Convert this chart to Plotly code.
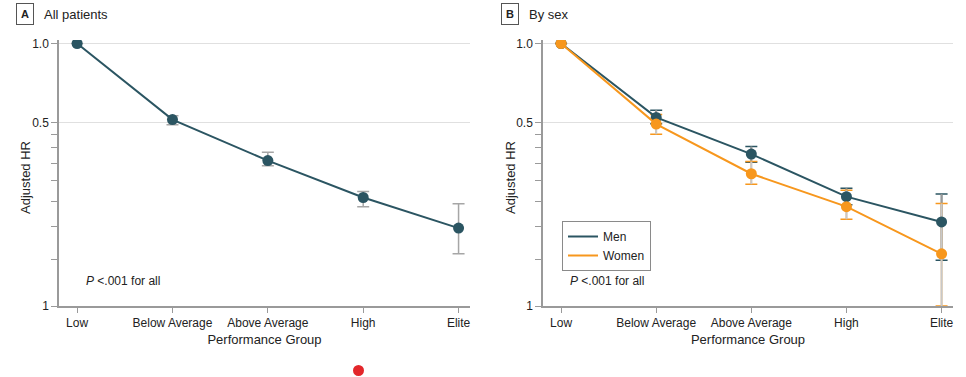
import plotly.graph_objects as go

# ---------------- data ----------------
groups = ["Low", "Below Average", "Above Average", "High", "Elite"]

all_hr = [1.0, 0.513, 0.358, 0.259, 0.198]
all_lo = [1.0, 0.490, 0.342, 0.239, 0.158]
all_hi = [1.0, 0.530, 0.385, 0.273, 0.245]

men_hr = [1.0, 0.523, 0.379, 0.261, 0.209]
men_lo = [1.0, 0.495, 0.353, 0.243, 0.1495]
men_hi = [1.0, 0.557, 0.405, 0.281, 0.267]

women_hr = [1.0, 0.493, 0.319, 0.239, 0.158]
women_lo = [1.0, 0.451, 0.291, 0.214, 0.100]
women_hi = [1.0, 0.537, 0.355, 0.276, 0.246]

y_tickvals = [0.1, 0.5, 1.0]
y_ticktext = ["1", "0.5", "1.0"]
y_minor = [0.15, 0.2, 0.25, 0.3, 0.35, 0.4, 0.45]

TEAL = "#2b5562"
ORANGE = "#f7971d"
GRAY = "#a6a6a6"
LGRAY = "#c8c8c8"
FONT = "Liberation Sans, Arial, sans-serif"
TXT = "#222222"

W, H = 966, 377

fig = go.Figure()

def err(hr, lo, hi):
    return dict(type="data", symmetric=False,
                array=[h - v for h, v in zip(hi, hr)],
                arrayminus=[v - l for v, l in zip(hr, lo)])

# ---------- Panel A ----------
ea = err(all_hr, all_lo, all_hi)
fig.add_trace(go.Scatter(x=groups, y=all_hr, mode="lines+markers",
                         line=dict(color=TEAL, width=2),
                         marker=dict(color=TEAL, size=11),
                         error_y=dict(**ea, color=GRAY, thickness=1.5, width=6),
                         showlegend=False, xaxis="x", yaxis="y"))

# ---------- Panel B ----------
def add_sex(hr, lo, hi, color, vcolor):
    e = err(hr, lo, hi)
    # colored caps
    fig.add_trace(go.Scatter(x=groups, y=hr, mode="markers",
                             marker=dict(color=color, size=1, opacity=0),
                             error_y=dict(**e, color=color, thickness=1.5, width=6),
                             showlegend=False, hoverinfo="skip",
                             xaxis="x2", yaxis="y2"))
    # gray vertical segment on top
    fig.add_trace(go.Scatter(x=groups, y=hr, mode="markers",
                             marker=dict(color=color, size=1, opacity=0),
                             error_y=dict(**e, color=vcolor, thickness=2, width=0),
                             showlegend=False, hoverinfo="skip",
                             xaxis="x2", yaxis="y2"))

add_sex(men_hr, men_lo, men_hi, TEAL, "#9a9a9a")
add_sex(women_hr, women_lo, women_hi, ORANGE, LGRAY)

fig.add_trace(go.Scatter(x=groups, y=men_hr, mode="lines+markers",
                         line=dict(color=TEAL, width=2),
                         marker=dict(color=TEAL, size=11),
                         showlegend=False, xaxis="x2", yaxis="y2"))
fig.add_trace(go.Scatter(x=groups, y=women_hr, mode="lines+markers",
                         line=dict(color=ORANGE, width=2),
                         marker=dict(color=ORANGE, size=11),
                         showlegend=False, xaxis="x2", yaxis="y2"))

# legend entries (lines only)
fig.add_trace(go.Scatter(x=[None], y=[None], mode="lines", name="Men",
                         line=dict(color=TEAL, width=2), xaxis="x2", yaxis="y2"))
fig.add_trace(go.Scatter(x=[None], y=[None], mode="lines", name="Women",
                         line=dict(color=ORANGE, width=2), xaxis="x2", yaxis="y2"))

# ---------- axes ----------
top, bottom = 40, 306
ydom = [1 - bottom / H, 1 - top / H]
yr = [-1, 0.0133]

def xaxis(dom, anchor):
    return dict(domain=dom, anchor=anchor, type="category",
                categoryorder="array", categoryarray=groups,
                range=[-0.19, 4.12], showgrid=False, zeroline=False,
                showline=True, linecolor="#9a9a9a", linewidth=1.5,
                ticks="outside", ticklen=5, tickcolor="#9a9a9a", tickwidth=1,
                tickfont=dict(family=FONT, size=12, color=TXT),
                title=dict(text="Performance Group", standoff=6,
                           font=dict(family=FONT, size=13, color=TXT)),
                automargin=False, fixedrange=True)

def yaxis(anchor):
    return dict(domain=ydom, anchor=anchor, type="log", range=yr,
                tickvals=y_tickvals, ticktext=y_ticktext,
                showgrid=True, gridcolor="#e0e0e0", gridwidth=1.2,
                zeroline=False, showline=True, linecolor="#9a9a9a", linewidth=1.5,
                ticks="outside", ticklen=6, tickcolor="#9a9a9a", tickwidth=1,
                tickfont=dict(family=FONT, size=12, color=TXT),
                minor=dict(tickvals=y_minor, ticks="outside", ticklen=6,
                           tickcolor="#9a9a9a", tickwidth=1, showgrid=False),
                automargin=False, fixedrange=True)

fig.update_layout(
    width=W, height=H,
    margin=dict(l=0, r=0, t=0, b=0),
    paper_bgcolor="white", plot_bgcolor="white",
    xaxis=xaxis([59 / W, 470 / W], "y"),
    yaxis=yaxis("x"),
    xaxis2=xaxis([543 / W, 953 / W], "y2"),
    yaxis2=yaxis("x2"),
    showlegend=True,
    legend=dict(x=562 / W, y=1 - 221 / H, xanchor="left", yanchor="top",
                bordercolor="#8a8a8a", borderwidth=1, bgcolor="white",
                font=dict(family=FONT, size=12, color=TXT),
                itemwidth=30, tracegroupgap=0),
    font=dict(family=FONT, color=TXT),
)

ann = []
for letter, title, x0 in [("A", "All patients", 16), ("B", "By sex", 501)]:
    ann.append(dict(xref="paper", yref="paper", x=x0 / W, y=1 - 14 / H,
                    xanchor="left", yanchor="middle", text="<b>" + letter + "</b>",
                    showarrow=False, bordercolor="#555555", borderwidth=1,
                    borderpad=4, font=dict(family=FONT, size=11, color=TXT)))
    ann.append(dict(xref="paper", yref="paper", x=(x0 + 26) / W, y=1 - 14 / H,
                    xanchor="left", yanchor="middle", text=title,
                    showarrow=False, font=dict(family=FONT, size=13, color=TXT)))
for x0 in [84, 568]:
    ann.append(dict(xref="paper", yref="paper", x=x0 / W, y=1 - 281 / H,
                    xanchor="left", yanchor="middle", text="<i>P</i> <.001 for all",
                    showarrow=False, font=dict(family=FONT, size=12, color=TXT)))
for xc in [25, 510]:
    ann.append(dict(xref="paper", yref="paper", x=xc / W, y=1 - 178 / H,
                    xanchor="center", yanchor="middle", text="Adjusted HR",
                    textangle=-90, showarrow=False,
                    font=dict(family=FONT, size=13, color=TXT)))
fig.update_layout(annotations=ann)

fig.add_shape(type="circle", xref="paper", yref="paper",
              x0=353 / W, x1=364 / W, y0=1 - 376 / H, y1=1 - 365 / H,
              fillcolor="#e3262a", line=dict(width=0))

fig.write_html("out.html", config={"displayModeBar": False},
               post_script="document.body.style.margin='0';document.body.style.overflow='hidden';")
